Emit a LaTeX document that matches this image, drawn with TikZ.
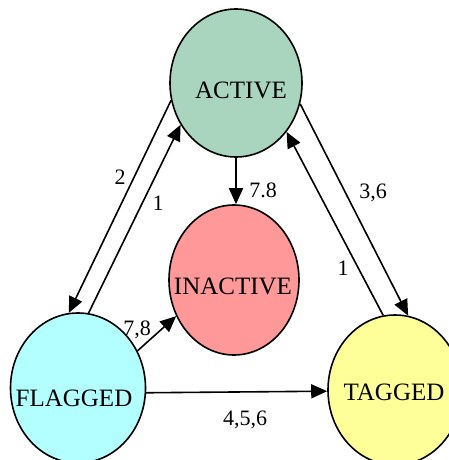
\documentclass[tikz,border=0pt]{standalone}
\usepackage{fontspec}
\setmainfont{Liberation Serif}
\usetikzlibrary{shapes.geometric,arrows.meta}

\definecolor{activefill}{HTML}{A9D5BE}
\definecolor{inactivefill}{HTML}{FF9999}
\definecolor{flaggedfill}{HTML}{B3FFFF}
\definecolor{taggedfill}{HTML}{FFFF99}

\tikzset{
  state/.style={ellipse, draw=black, line width=1.6pt, inner sep=0pt},
  statetext/.style={inner sep=0pt, font=\fontsize{25}{29}\selectfont},
  trans/.style={line width=1.6pt, -{Triangle[length=16pt,width=14pt]}},
  tlabel/.style={inner sep=0pt, font=\fontsize{22}{26}\selectfont},
}

\begin{document}
\begin{tikzpicture}[x=1pt, y=-1pt]
  \useasboundingbox (0,0) rectangle (449,460);

  % states
  \node[state, fill=activefill, minimum width=132pt, minimum height=148pt] (act) at (236,83) {};
  \node[state, fill=inactivefill, minimum width=130pt, minimum height=150pt] (inact) at (234,280) {};
  \node[state, fill=flaggedfill, minimum width=135pt, minimum height=150pt] (fl) at (78,388) {};
  \node[state, fill=taggedfill, minimum width=134pt, minimum height=150pt] (tg) at (395,390) {};

  % state names
  \node[statetext] (actname) at (241,90) {ACTIVE};
  \node[statetext] (inactname) at (233,286) {INACTIVE};
  \node[statetext] (flname) at (74,398) {FLAGGED};
  \node[statetext] (tgname) at (394,392) {TAGGED};

  % transitions
  \draw[trans] (act.195) -- (fl.97.5);
  \draw[trans] (fl.82.5) -- (act.217);
  \draw[trans] (act.342) -- (tg.80);
  \draw[trans] (tg.99.5) -- (act.316.5);
  \draw[trans] (act.south) -- (act.south |- inact.north);
  \draw[trans] (fl.32) -- (inact.212);
  \draw[trans] (fl.-4) -- (tg.181);

  % transition labels
  \node[tlabel] (l2) at (120,177) {2};
  \node[tlabel] (l1a) at (158,203) {1};
  \node[tlabel] (l78a) at (263,190) {7.8};
  \node[tlabel] (l78b) at (137,330) {7,8};
  \node[tlabel] (l456) at (245,420) {4,5,6};
  \node[tlabel] (l36) at (373,193) {3,6};
  \node[tlabel] (l1b) at (343,268) {1};
\end{tikzpicture}
\end{document}
